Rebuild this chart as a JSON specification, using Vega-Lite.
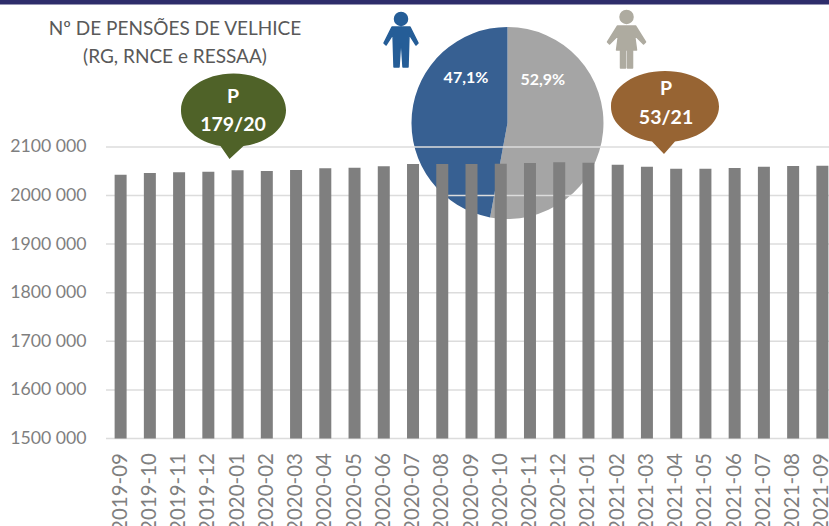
{"$schema":"https://vega.github.io/schema/vega-lite/v6.json","width":723,"height":438.5,"autosize":{"type":"none"},"padding":{"left":106,"top":0,"right":0,"bottom":87.5},"background":"white","config":{"view":{"stroke":null},"font":"Lato"},"datasets":{"bars":[{"m":"2019-09","v":2042800},{"m":"2019-10","v":2046300},{"m":"2019-11","v":2047700},{"m":"2019-12","v":2049000},{"m":"2020-01","v":2051900},{"m":"2020-02","v":2050400},{"m":"2020-03","v":2052500},{"m":"2020-04","v":2056000},{"m":"2020-05","v":2057200},{"m":"2020-06","v":2060100},{"m":"2020-07","v":2064800},{"m":"2020-08","v":2064800},{"m":"2020-09","v":2064800},{"m":"2020-10","v":2065500},{"m":"2020-11","v":2066900},{"m":"2020-12","v":2068200},{"m":"2021-01","v":2067500},{"m":"2021-02","v":2063400},{"m":"2021-03","v":2059300},{"m":"2021-04","v":2055100},{"m":"2021-05","v":2055100},{"m":"2021-06","v":2056600},{"m":"2021-07","v":2059000},{"m":"2021-08","v":2060700},{"m":"2021-09","v":2061300}]},"resolve":{"scale":{"x":"independent","color":"independent"}},"layer":[{"data":{"values":[{"a":-4.12,"b":24.222,"y":2393000,"y2":2402258}]},"mark":{"type":"rect","color":"#2e2d6b"},"encoding":{"x":{"field":"a","type":"quantitative","scale":{"domain":[-0.4957,24.222],"nice":false,"zero":false},"axis":null},"x2":{"field":"b"},"y":{"field":"y","type":"quantitative","scale":{"domain":[1500000,2402258],"nice":false,"zero":false},"axis":{"values":[1500000,1600000,1700000,1800000,1900000,2000000,2100000],"labelExpr":"floor(datum.value/1000)+' 000'","title":null,"grid":false,"ticks":false,"domain":false,"labelFontSize":17.7,"labelColor":"#7f7f7f","labelPadding":20,"labelFont":"Lato"}},"y2":{"field":"y2"}}},{"data":{"values":[{"sexo":"Mulheres","pct":52.9,"o":1,"p":13.23,"y":2149200},{"sexo":"Homens","pct":47.1,"o":2,"p":13.23,"y":2149200}]},"mark":{"type":"arc","outerRadius":96},"encoding":{"theta":{"field":"pct","type":"quantitative","stack":true},"order":{"field":"o"},"color":{"field":"sexo","type":"nominal","scale":{"domain":["Mulheres","Homens"],"range":["#a5a5a5","#376092"]},"legend":null},"x":{"field":"p","type":"quantitative","scale":{"domain":[-0.4957,24.222],"nice":false,"zero":false},"axis":null},"y":{"field":"y","type":"quantitative"}}},{"data":{"values":[{"g":1500000},{"g":1600000},{"g":1700000},{"g":1800000},{"g":1900000},{"g":2000000},{"g":2100000}]},"mark":{"type":"rule","color":"#dcdcdc","strokeWidth":1.5},"encoding":{"y":{"field":"g","type":"quantitative"}}},{"data":{"name":"bars"},"mark":{"type":"bar","color":"#7f7f7f","width":12},"encoding":{"x":{"field":"m","type":"ordinal","sort":null,"scale":{"range":[0,731],"padding":0},"axis":{"title":null,"labelAngle":-90,"labelFontSize":20.5,"labelColor":"#7f7f7f","labelPadding":14,"ticks":false,"domain":false,"labelOverlap":false,"labelBound":false,"labelFont":"Lato"}},"y":{"field":"v","type":"quantitative","stack":null},"y2":{"datum":1500000}}},{"data":{"values":[{"p":9.59,"y":2320000}]},"mark":{"type":"point","filled":true,"opacity":1,"size":4,"color":"#255d97","stroke":"#255d97","strokeWidth":1.5,"strokeJoin":"round","shape":"M-6.5,-21 A6.5,6.5 0 1 1 6.5,-21 A6.5,6.5 0 1 1 -6.5,-21 Z M-9,-13 L9,-13 L17,3 L15,5 L8,-6 L7,27 L2,27 L0.5,4 L-0.5,4 L-2,27 L-7,27 L-8,-6 L-15,5 L-17,3 Z"},"encoding":{"x":{"field":"p","type":"quantitative","scale":{"domain":[-0.4957,24.222],"nice":false,"zero":false},"axis":null},"y":{"field":"y","type":"quantitative"}}},{"data":{"values":[{"p":17.3,"y":2320000}]},"mark":{"type":"point","filled":true,"opacity":1,"size":4,"color":"#aeaba0","stroke":"#aeaba0","strokeWidth":1.5,"strokeJoin":"round","shape":"M-6.5,-23 A6.5,6.5 0 1 1 6.5,-23 A6.5,6.5 0 1 1 -6.5,-23 Z M-9,-14 L9,-14 L19,2 L17,4 L8,-5 L10,10 L6,10 L6,28 L1,28 L1,10 L-1,10 L-1,28 L-6,28 L-6,10 L-10,10 L-8,-5 L-17,4 L-19,2 Z"},"encoding":{"x":{"field":"p","type":"quantitative","scale":{"domain":[-0.4957,24.222],"nice":false,"zero":false},"axis":null},"y":{"field":"y","type":"quantitative"}}},{"data":{"values":[{"p":3.863,"y":2175900}]},"mark":{"type":"point","filled":true,"opacity":1,"size":4,"color":"#4f6228","shape":"M-52.5,0 A52.5,36.5 0 0 1 52.5,0 A52.5,36.5 0 0 1 10,36 L-4,49 L-13,36 A52.5,36.5 0 0 1 -52.5,0 Z"},"encoding":{"x":{"field":"p","type":"quantitative","scale":{"domain":[-0.4957,24.222],"nice":false,"zero":false},"axis":null},"y":{"field":"y","type":"quantitative"}}},{"data":{"values":[{"p":18.615,"y":2183100}]},"mark":{"type":"point","filled":true,"opacity":1,"size":4,"color":"#976433","shape":"M-54,0 A54,35.5 0 0 1 54,0 A54,35.5 0 0 1 10,35 L-1,47.5 L-13,35 A54,35.5 0 0 1 -54,0 Z"},"encoding":{"x":{"field":"p","type":"quantitative","scale":{"domain":[-0.4957,24.222],"nice":false,"zero":false},"axis":null},"y":{"field":"y","type":"quantitative"}}},{"data":{"values":[{"t":"Nº DE PENSÕES DE VELHICE","p":1.863,"y":2342600},{"t":"(RG, RNCE e RESSAA)","p":1.863,"y":2285000}]},"mark":{"type":"text","font":"Lato","fontSize":19,"color":"#595959","align":"center","baseline":"middle"},"encoding":{"text":{"field":"t"},"x":{"field":"p","type":"quantitative","scale":{"domain":[-0.4957,24.222],"nice":false,"zero":false},"axis":null},"y":{"field":"y","type":"quantitative"}}},{"data":{"values":[{"t":"P","p":3.846,"y":2202800},{"t":"179/20","p":3.846,"y":2145200},{"t":"P","p":18.65,"y":2219200},{"t":"53/21","p":18.65,"y":2159600}]},"mark":{"type":"text","font":"Lato","fontSize":19.5,"fontWeight":"bold","color":"white","align":"center","baseline":"middle"},"encoding":{"text":{"field":"t"},"x":{"field":"p","type":"quantitative","scale":{"domain":[-0.4957,24.222],"nice":false,"zero":false},"axis":null},"y":{"field":"y","type":"quantitative"}}},{"data":{"values":[{"t":"47,1%","p":11.81,"y":2241800},{"t":"52,9%","p":14.44,"y":2237700}]},"mark":{"type":"text","font":"Lato","fontSize":16,"fontWeight":"bold","color":"white","align":"center","baseline":"middle"},"encoding":{"text":{"field":"t"},"x":{"field":"p","type":"quantitative","scale":{"domain":[-0.4957,24.222],"nice":false,"zero":false},"axis":null},"y":{"field":"y","type":"quantitative"}}}]}
